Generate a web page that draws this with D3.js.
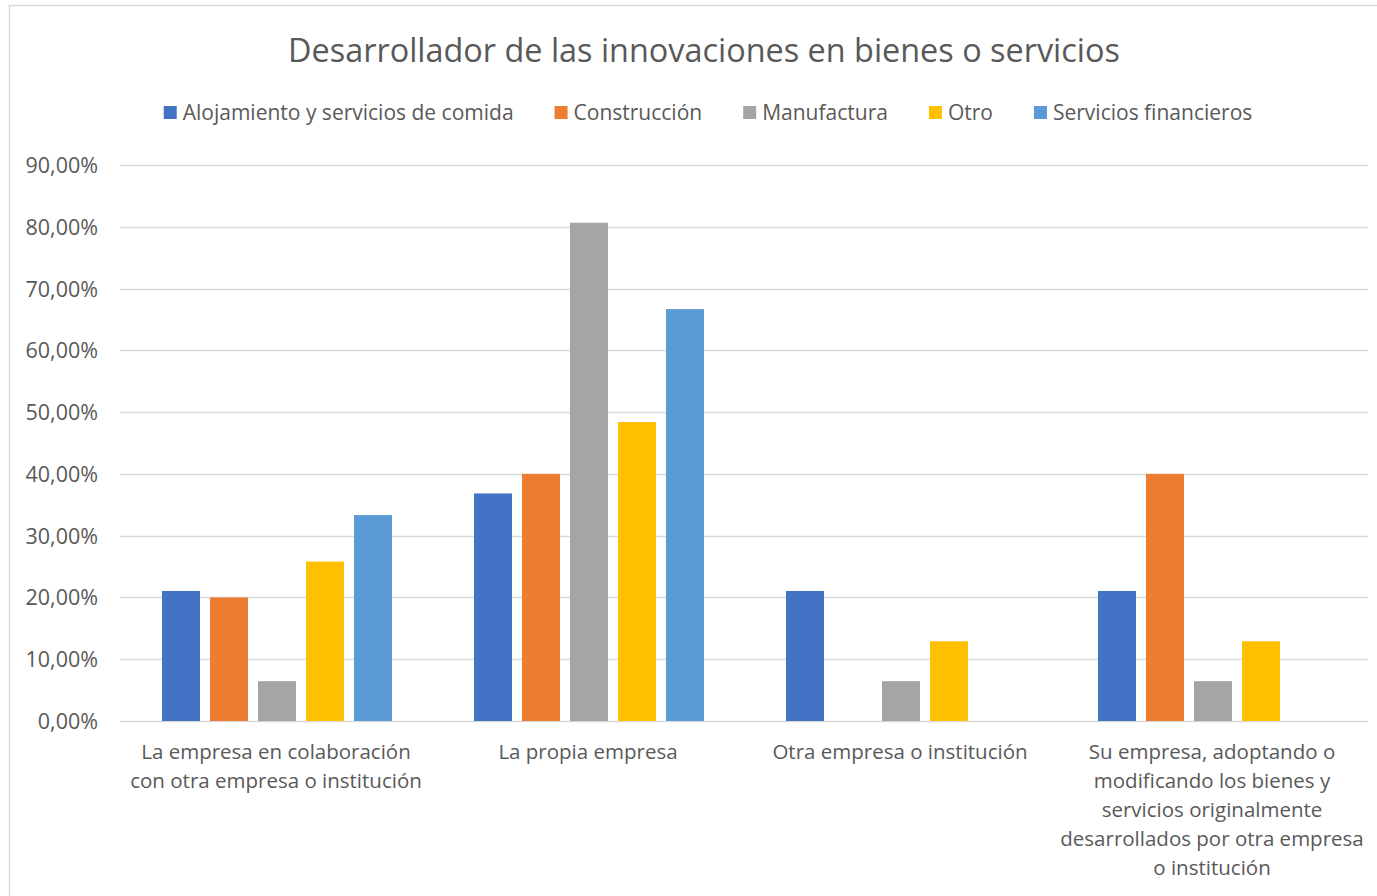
<!DOCTYPE html>
<html lang="es">
<head>
<meta charset="UTF-8">
<title>Desarrollador de las innovaciones</title>
<script src="https://cdn.jsdelivr.net/npm/d3@7"></script>
<style>
  body { margin: 0; background: #fff; }
  text { font-family: "Open Sans", "Noto Sans", sans-serif; fill: #595959; }
  .grid line { stroke: #d9d9d9; stroke-width: 1.3; }
</style>
</head>
<body>
<svg width="1377" height="896"></svg>
<script>
// data
var categories = [
  "La empresa en colaboración con otra empresa o institución",
  "La propia empresa",
  "Otra empresa o institución",
  "Su empresa, adoptando o modificando los bienes y servicios originalmente desarrollados por otra empresa o institución"
];
var series = ["Alojamiento y servicios de comida", "Construcción", "Manufactura", "Otro", "Servicios financieros"];
var colors = ["#4472c4", "#ed7d31", "#a5a5a5", "#ffc000", "#5b9bd5"];
var alojamiento = [0.2105, 0.3684, 0.2105, 0.2105];
var construccion = [0.20, 0.40, 0, 0.40];
var manufactura = [0.0645, 0.8065, 0.0645, 0.0645];
var otro = [0.2581, 0.4839, 0.1290, 0.1290];
var financieros = [0.3333, 0.6667, 0, 0];
var yTicks = [0, 0.1, 0.2, 0.3, 0.4, 0.5, 0.6, 0.7, 0.8, 0.9];
var values = [alojamiento, construccion, manufactura, otro, financieros];

var svg = d3.select("svg");
var margin = { left: 120, right: 1368, top: 165, bottom: 721 };

// chart frame (extends past the window on right/bottom)
svg.append("rect").attr("x", 9.5).attr("y", 5.5).attr("width", 1400).attr("height", 920)
  .attr("fill", "none").attr("stroke", "#d9d9d9").attr("stroke-width", 1.5);

svg.append("text").attr("x", 704).attr("y", 62).attr("text-anchor", "middle")
  .style("font-size", "32.4px").text("Desarrollador de las innovaciones en bienes o servicios");

var x0 = d3.scaleBand().domain(categories).range([margin.left, margin.right]);
var x1 = d3.scaleBand().domain(series).range([0, 230]).paddingInner(0.2083).paddingOuter(0);
var y = d3.scaleLinear().domain([0, 0.9]).range([margin.bottom, margin.top]);
var fmt = function(d) { return d3.format(".2f")(d * 100).replace(".", ",") + "%"; };

// gridlines
svg.append("g").attr("class", "grid").selectAll("line").data(yTicks).enter().append("line")
  .attr("x1", margin.left).attr("x2", margin.right)
  .attr("y1", function(d) { return Math.round(y(d)) + 0.5; })
  .attr("y2", function(d) { return Math.round(y(d)) + 0.5; });

// y axis
var yAxis = svg.append("g").attr("transform", "translate(" + (margin.left - 22) + ",0)")
  .call(d3.axisLeft(y).tickValues(yTicks).tickFormat(fmt).tickSize(0).tickPadding(0));
yAxis.select(".domain").remove();
yAxis.selectAll("text").style("font-size", "21.5px").attr("fill", "#595959").attr("dy", "0.35em");

// bars
var groups = svg.append("g").selectAll("g").data(categories).enter().append("g")
  .attr("transform", function(d) { return "translate(" + (x0(d) + (x0.bandwidth() - 230) / 2 + 1) + ",0)"; });
groups.selectAll("rect").data(function(d, ci) {
    return series.map(function(s, si) { return { s: s, si: si, v: values[si][ci] }; });
  }).enter().append("rect")
  .attr("x", function(d) { return x1(d.s); })
  .attr("width", x1.bandwidth())
  .attr("y", function(d) { return y(d.v); })
  .attr("height", function(d) { return y(0) - y(d.v); })
  .attr("fill", function(d) { return colors[d.si]; });

// x axis labels (wrapped)
var xAxis = svg.append("g").attr("transform", "translate(0," + margin.bottom + ")")
  .call(d3.axisBottom(x0).tickSize(0).tickPadding(0));
xAxis.select(".domain").remove();
xAxis.selectAll("text").style("font-size", "20.5px").attr("fill", "#595959").attr("y", 0).attr("dy", 0)
  .each(function(d) { wrap(d3.select(this), 305); });

function wrap(text, width) {
  var words = text.text().split(/\s+/), line = [], lineNo = 0;
  text.text(null);
  var tspan = text.append("tspan").attr("x", 0).attr("y", 38);
  words.forEach(function(w) {
    line.push(w);
    tspan.text(line.join(" "));
    if (tspan.node().getComputedTextLength() > width && line.length > 1) {
      line.pop();
      tspan.text(line.join(" "));
      line = [w];
      lineNo++;
      tspan = text.append("tspan").attr("x", 0).attr("y", 38 + lineNo * 29).text(w);
    }
  });
}

// legend
var legend = svg.append("g");
var items = legend.selectAll("g").data(series).enter().append("g");
items.append("rect").attr("width", 13).attr("height", 13).attr("y", -13)
  .attr("fill", function(d, i) { return colors[i]; });
items.append("text").attr("x", 19).attr("y", 1).style("font-size", "21px").text(function(d) { return d; });
var pos = 0, offs = [];
items.each(function() {
  offs.push(pos);
  pos += 19 + d3.select(this).select("text").node().getComputedTextLength() + 41;
});
var total = pos - 41;
items.attr("transform", function(d, i) { return "translate(" + (708 - total / 2 + offs[i]) + ",119)"; });
</script>
</body>
</html>
